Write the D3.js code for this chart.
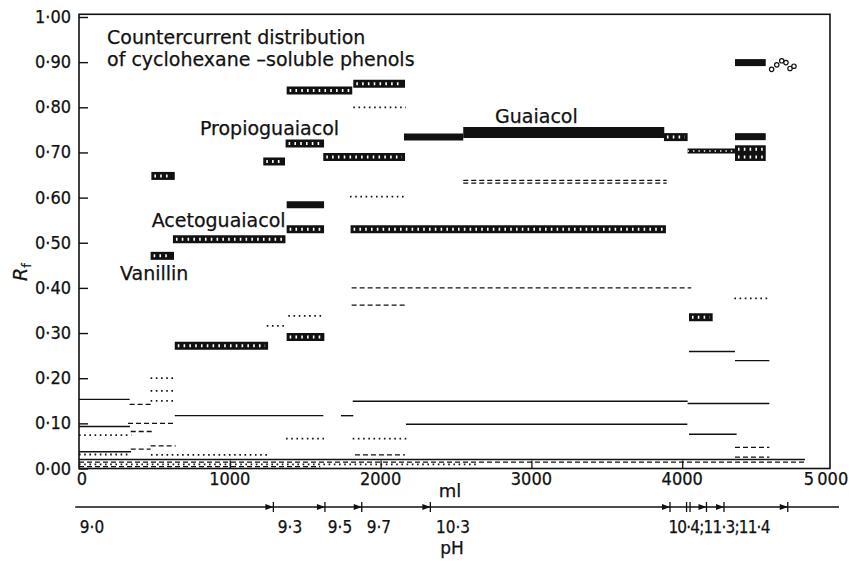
<!DOCTYPE html>
<html>
<head>
<meta charset="utf-8">
<script src="https://cdnjs.cloudflare.com/ajax/libs/d3/7.8.5/d3.min.js"></script>
<style>
  body { margin: 0; background: #fff; }
  svg { display: block; }
  text { font-family: "DejaVu Sans", sans-serif; fill: #111; stroke: #111; stroke-width: 0.25px; }
  .tick-label { font-family: "DejaVu Sans Condensed", "DejaVu Sans", sans-serif; }
</style>
</head>
<body>
<div id="container"></div>
<script>
/* DATA (ml start, ml end, Rf) */
const solidLines = [
    [0, 336, 0.153], [0, 338, 0.093], [0, 345, 0.037],
    [635, 1620, 0.117], [1737, 1819, 0.117],
    [1815, 4036, 0.149], [4036, 4578, 0.144],
    [2168, 4034, 0.098],
    [4045, 4350, 0.259], [4350, 4578, 0.239], [4045, 4361, 0.076],
    [0, 4814, 0.020]
]
const dashedLines = [
    [336, 491, 0.142], [325, 635, 0.100], [343, 497, 0.082],
    [475, 641, 0.050], [343, 475, 0.043],
    [1830, 2162, 0.030],
    [1808, 4060, 0.400], [1808, 2162, 0.362],
    [2548, 3897, 0.638], [2548, 3897, 0.632],
    [4350, 4578, 0.047], [4350, 4578, 0.025],
    [0, 4814, 0.014], [0, 1600, 0.004]
]
const dottedLines = [
    [0, 347, 0.074], [0, 345, 0.031], [477, 1264, 0.030],
    [475, 639, 0.200], [475, 639, 0.172], [475, 639, 0.150],
    [1245, 1377, 0.316], [1388, 1627, 0.338],
    [1373, 1631, 0.066], [1815, 2173, 0.066],
    [1819, 2168, 0.800], [1797, 2173, 0.602],
    [4346, 4578, 0.377],
    [0, 2640, 0.009]
]
const solidBars = [
    [1377, 1625, 0.584], [2155, 2548, 0.734],
    [4350, 4554, 0.899], [4350, 4554, 0.735]
]
const guaiacolBar = [[2548, 3881, 0.744]]
const hatchBars = [
    [475, 630, 0.471], [623, 1369, 0.508], [480, 635, 0.648],
    [1222, 1366, 0.680], [1370, 1625, 0.720], [1620, 2162, 0.690],
    [1377, 1812, 0.837], [1819, 2162, 0.852],
    [1377, 1625, 0.530], [1801, 3892, 0.530],
    [635, 1254, 0.272], [1377, 1627, 0.291],
    [3879, 4036, 0.734], [4045, 4202, 0.335],
    [4350, 4554, 0.707], [4350, 4554, 0.690]
]
const thinHatch = [[4036, 4350, 0.703]]
const crystalDots = [
    [4593, 0.884], [4627, 0.894], [4660, 0.903],
    [4688, 0.899], [4715, 0.886], [4741, 0.891]
]
const yTicks = [0, 0.1, 0.2, 0.3, 0.4, 0.5, 0.6, 0.7, 0.8, 0.9, 1.0]
const xTicks = [0, 1000, 2000, 3000, 4000, 5000]
const xTickLabels = ["0", "1000", "2000", "3000", "4000", "5\u2009000"]
const phBreaks = [1289, 1631, 1875, 2330, 3919, 4029, 4052, 4161, 4277, 4700]
const phArrows = [1289, 1631, 1875, 2330, 3919, 4161, 4277, 4700]
const phLabelText = ["9·0", "9·3", "9·5", "9·7", "10·3", "10·4;11·3;11·4"]
const phLabelMl = [86, 1399, 1731, 1989, 2480, 4244]

/* CONSTANTS AND GLOBALS */
const width = 849,
    height = 561

const xScale = d3.scaleLinear().domain([0, 5000]).range([79, 833])
const yScale = d3.scaleLinear().domain([0, 1]).range([468.5, 17])

const svg = d3.select("#container")
    .append("svg")
    .attr("width", width)
    .attr("height", height)
    .style("background-color", "#fff")

// FRAME
const x0 = xScale(0), x1 = xScale(4980), yTop = yScale(1.006), yBot = yScale(0)
svg.append("rect")
    .attr("x", x0).attr("y", yTop)
    .attr("width", x1 - x0).attr("height", yBot - yTop)
    .attr("fill", "none").attr("stroke", "#111").attr("stroke-width", 1.6)

// Y AXIS (ticks inward)
svg.append("g")
    .attr("transform", "translate(" + x0 + ",0)")
    .call(d3.axisRight(yScale).tickValues(yTicks).tickSize(9).tickFormat(""))
    .call(g => g.select(".domain").remove())
    .call(g => g.selectAll("line").attr("stroke", "#111").attr("stroke-width", 1.4))

svg.selectAll(".ylab")
    .data(yTicks)
    .join("text")
    .attr("class", "tick-label")
    .attr("x", 71)
    .attr("y", d => yScale(d) + 6)
    .attr("text-anchor", "end")
    .style("font-size", "18px")
    .text(d => d3.format(".2f")(d).replace(".", "·"))

// X AXIS (ticks inward)
svg.append("g")
    .attr("transform", "translate(0," + yBot + ")")
    .call(d3.axisTop(xScale).tickValues([1000, 2000, 3000, 4000]).tickSize(8).tickFormat(""))
    .call(g => g.select(".domain").remove())
    .call(g => g.selectAll("line").attr("stroke", "#111").attr("stroke-width", 1.3))

svg.selectAll(".xlab")
    .data(xTicks)
    .join("text")
    .attr("class", "tick-label")
    .attr("x", (d, i) => xScale(d) + (i === 0 ? 3 : i === 5 ? -7 : 0))
    .attr("y", 485)
    .attr("text-anchor", "middle")
    .style("font-size", "18px")
    .text((d, i) => xTickLabels[i])

// LINES
const seg = (sel, data, cls) => sel.selectAll("line." + cls)
    .data(data)
    .join("line")
    .attr("class", cls)
    .attr("x1", d => xScale(d[0]))
    .attr("x2", d => xScale(d[1]))
    .attr("y1", d => yScale(d[2]))
    .attr("y2", d => yScale(d[2]))
    .attr("stroke", "#111")

seg(svg, solidLines, "solid").attr("stroke-width", 1.4)
seg(svg, dashedLines, "dashed").attr("stroke-width", 1.3).attr("stroke-dasharray", "5,3")
seg(svg, dottedLines, "dotted").attr("stroke-width", 1.8).attr("stroke-dasharray", "1.6,3.6")

// BARS
seg(svg, solidBars, "sbar").attr("stroke-width", 7)
seg(svg, guaiacolBar, "gbar").attr("stroke-width", 11)
seg(svg, hatchBars, "hbar").attr("stroke-width", 8)
seg(svg, hatchBars, "hbar-w").attr("stroke", "#fff").attr("stroke-width", 3)
    .attr("x1", d => xScale(d[0]) + 3).attr("x2", d => xScale(d[1]) - 3)
    .attr("stroke-dasharray", "1.6,4.2")
seg(svg, thinHatch, "tbar").attr("stroke-width", 5)
seg(svg, thinHatch, "tbar-w").attr("stroke", "#fff").attr("stroke-width", 1.5)
    .attr("stroke-dasharray", "1.4,4")

svg.selectAll(".dot")
    .data(crystalDots)
    .join("circle")
    .attr("cx", d => xScale(d[0]))
    .attr("cy", d => yScale(d[1]))
    .attr("r", 2.2)
    .attr("fill", "#fff")
    .attr("stroke", "#111")
    .attr("stroke-width", 1.2)

// LABELS
const label = (ml, rf, txt) => svg.append("text")
    .attr("x", xScale(ml))
    .attr("y", yScale(rf))
    .style("font-size", "19px")
    .text(txt)

label(186, 0.940, "Countercurrent distribution")
label(186, 0.891, "of cyclohexane –soluble phenols")
label(802, 0.738, "Propioguaiacol")
label(2759, 0.765, "Guaiacol")
label(482, 0.535, "Acetoguaiacol")
label(272, 0.4175, "Vanillin")

const rf = svg.append("text")
    .attr("transform", "translate(27,272) rotate(-90)")
    .attr("text-anchor", "middle")
    .style("font-size", "19px")
rf.append("tspan").style("font-style", "italic").text("R")
rf.append("tspan").attr("dy", 4).style("font-size", "13px").text("f")

svg.append("text")
    .attr("x", 450).attr("y", 497)
    .attr("text-anchor", "middle")
    .style("font-size", "18px")
    .text("ml")

// PH AXIS
const phY = 507
svg.append("line")
    .attr("x1", xScale(-25)).attr("x2", xScale(5040))
    .attr("y1", phY).attr("y2", phY)
    .attr("stroke", "#111").attr("stroke-width", 1.3)

svg.selectAll(".phtick")
    .data(phBreaks)
    .join("line")
    .attr("x1", d => xScale(d)).attr("x2", d => xScale(d))
    .attr("y1", phY - 5).attr("y2", phY + 5)
    .attr("stroke", "#111").attr("stroke-width", 1.3)

svg.selectAll(".pharrow")
    .data(phArrows)
    .join("path")
    .attr("d", d => {
        const x = xScale(d)
        return "M" + (x - 8) + "," + (phY - 3) + "L" + x + "," + phY + "L" + (x - 8) + "," + (phY + 3) + "Z"
    })
    .attr("fill", "#111")

svg.selectAll(".phlab")
    .data(phLabelText)
    .join("text")
    .attr("class", "tick-label")
    .attr("x", (d, i) => xScale(phLabelMl[i]))
    .attr("y", 533)
    .attr("text-anchor", "middle")
    .style("font-size", "17px")
    .style("letter-spacing", (d, i) => i === 5 ? "-0.8px" : "0px")
    .text(d => d)

svg.append("text")
    .attr("x", 452).attr("y", 554)
    .attr("text-anchor", "middle")
    .style("font-size", "17px")
    .text("pH")
</script>
</body>
</html>
